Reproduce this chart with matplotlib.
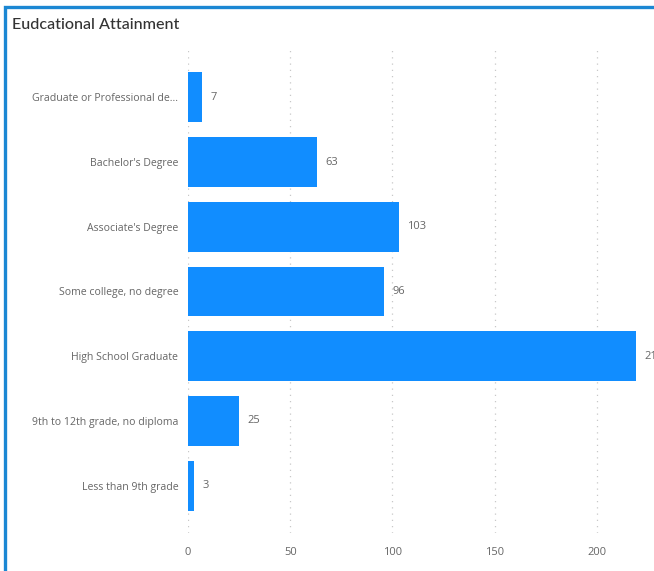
import matplotlib
matplotlib.use("Agg")
import matplotlib.pyplot as plt
from matplotlib.patches import Rectangle

categories = [
    "Graduate or Professional de...",
    "Bachelor's Degree",
    "Associate's Degree",
    "Some college, no degree",
    "High School Graduate",
    "9th to 12th grade, no diploma",
    "Less than 9th grade",
]
counts = [7, 63, 103, 96, 219, 25, 3]
x_ticks = [0, 50, 100, 150, 200]

BAR_COLOR = "#118DFF"
TEXT_GRAY = "#666666"
FONT = ["Open Sans", "DejaVu Sans"]

plt.rcParams["font.family"] = FONT

fig = plt.figure(figsize=(6.54, 5.71), dpi=100)
fig.patch.set_facecolor("white")

# card frame (top and left edges visible)
fig.patches.append(Rectangle((4.5 / 654, -0.05), 1.2, 1.05 - 7.5 / 571,
                             transform=fig.transFigure, fill=False,
                             edgecolor="#1B87D3", linewidth=2.4, zorder=0))

fig.text(12 / 654, 1 - 25 / 571, "Eudcational Attainment", fontsize=11.6,
         color="#333333", va="center", ha="left", fontweight="medium",
         family=["Lato", "DejaVu Sans"])

ax = fig.add_axes([188 / 654, 1 - 533 / 571, (650 - 188) / 654, (533 - 50) / 571])
ypos = list(range(len(categories)))
bars = ax.barh(ypos, counts, height=0.77, color=BAR_COLOR)

ax.set_ylim(len(categories) - 0.27, -0.73)
ax.set_xlim(0, 226)
ax.set_xticks(x_ticks)
ax.set_yticks(ypos)
ax.set_yticklabels(categories)
ax.tick_params(axis="y", length=0, pad=7, labelsize=7.6, labelcolor=TEXT_GRAY)
ax.tick_params(axis="x", length=0, pad=10, labelsize=8, labelcolor=TEXT_GRAY)

ax.grid(axis="x", linestyle=(0, (1, 4)), color="#C8C8C8", linewidth=0.9)
ax.set_axisbelow(True)
for spine in ax.spines.values():
    spine.set_visible(False)

for bar, v in zip(bars, counts):
    ax.annotate(str(v), (v, bar.get_y() + bar.get_height() / 2),
                xytext=(6, 0), textcoords="offset points",
                va="center", ha="left", fontsize=8, color=TEXT_GRAY,
                annotation_clip=False)

fig.savefig("out.png", dpi=100, facecolor="white")
